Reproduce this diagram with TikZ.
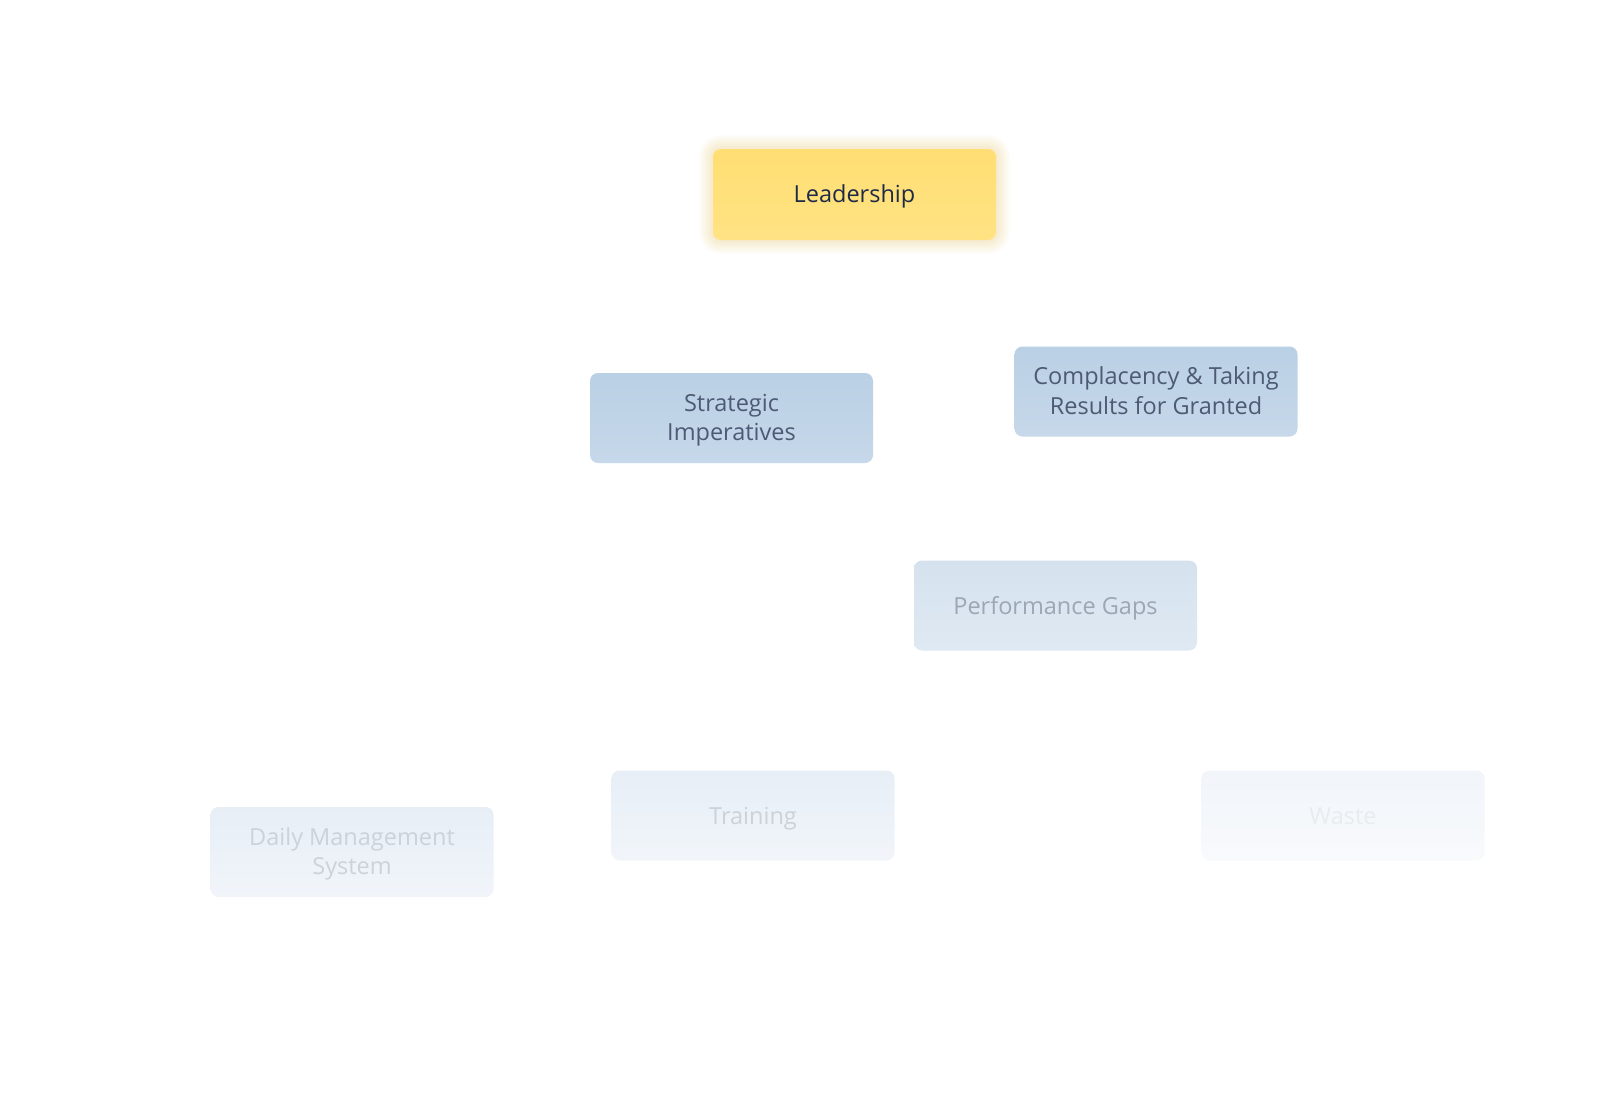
\documentclass[tikz,border=0pt]{standalone}
\usepackage{fontspec}
\setmainfont{Open Sans}
\begin{document}
\begin{tikzpicture}[x=1pt,y=-1pt,
  box/.style={rounded corners=8pt, minimum width=283pt, minimum height=90pt, inner sep=0pt},
  txt/.style={inner sep=0pt, align=center, font=\fontsize{23.5}{29.5}\selectfont},
  lead/.style={box, top color=leadtop, bottom color=leadbot},
  lvA/.style={box, top color=blueAtop, bottom color=blueAbot},
  lvB/.style={box, top color=blueBtop, bottom color=blueBbot},
  lvC/.style={box, top color=blueCtop, bottom color=blueCbot},
  lvD/.style={box, top color=blueDtop, bottom color=blueDbot},
]
\definecolor{leadtop}{HTML}{FFDF73}
\definecolor{leadbot}{HTML}{FFE283}
\definecolor{leadtext}{HTML}{1E2B48}
\definecolor{glow}{HTML}{F7C870}
\definecolor{blueAtop}{HTML}{BAD0E4}
\definecolor{blueAbot}{HTML}{C6D8EA}
\definecolor{textA}{HTML}{4D5A74}
\definecolor{blueBtop}{HTML}{D5E2EE}
\definecolor{blueBbot}{HTML}{DFE9F3}
\definecolor{textB}{HTML}{9DA6B3}
\definecolor{blueCtop}{HTML}{E7EEF6}
\definecolor{blueCbot}{HTML}{F1F5FA}
\definecolor{textC}{HTML}{CDD2D9}
\definecolor{blueDtop}{HTML}{F1F5FA}
\definecolor{blueDbot}{HTML}{F8FAFC}
\definecolor{textD}{HTML}{E8EBEF}
\useasboundingbox[fill=white] (0,0) rectangle (1600,1113);
% glow behind Leadership
\foreach \g in {1,...,10}{
  \fill[glow, opacity=0.035, rounded corners={8+\g*1.4}]
    (713-\g*1.4,149-\g*1.4) rectangle (996+\g*1.4,240+\g*1.4);
}
\node[lead, minimum height=91pt] (lead) at (854.5,194.5) {};
\node[lvA] (strat) at (731.5,418) {};
\node[lvA] (compl) at (1156,391.5) {};
\node[lvB] (perf) at (1055.5,605.5) {};
\node[lvC] (train) at (753,815.5) {};
\node[lvC] (dms) at (352,852) {};
\node[lvD] (waste) at (1343,815.5) {};
\node[txt, text=leadtext] (leadT) at ([yshift=-2pt]lead.center) {Leadership};
\node[txt, text=textA] (stratT) at ([yshift=-2pt]strat.center) {Strategic\\Imperatives};
\node[txt, text=textA] (complT) at ([yshift=1pt]compl.center) {Complacency \& Taking\\Results for Granted};
\node[txt, text=textB] (perfT) at ([yshift=-3pt]perf.center) {Performance Gaps};
\node[txt, text=textC] (trainT) at ([yshift=-3pt]train.center) {Training};
\node[txt, text=textC] (dmsT) at ([yshift=-2pt]dms.center) {Daily Management\\System};
\node[txt, text=textD] (wasteT) at ([yshift=-1pt]waste.center) {Waste};
\end{tikzpicture}
\end{document}
